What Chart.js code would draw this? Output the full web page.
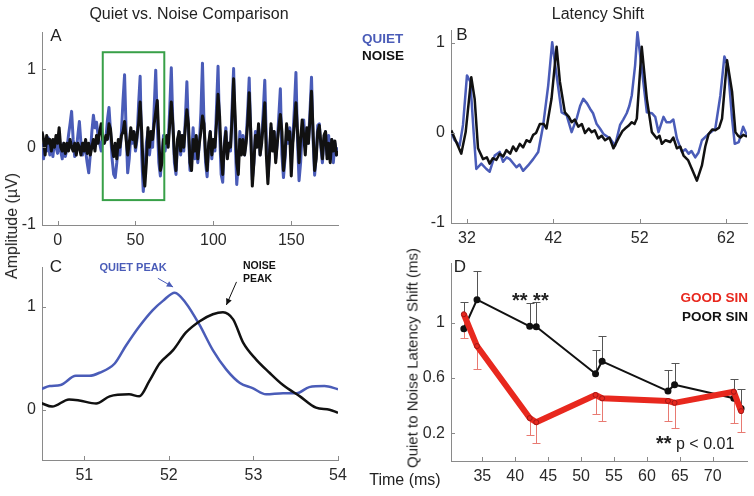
<!DOCTYPE html>
<html><head><meta charset="utf-8">
<script src="https://cdn.jsdelivr.net/npm/chart.js@4"></script>
<style>
body{margin:0;width:754px;height:496px;background:#fff;position:relative;overflow:hidden;font-family:"Liberation Sans",Arial,sans-serif;color:#222;}
canvas{position:absolute;left:0;top:0;}
.t{position:absolute;white-space:nowrap;line-height:1;transform:translate(-50%,-50%);}
.l{position:absolute;white-space:nowrap;line-height:1;transform:translate(0,-50%);}
.r{position:absolute;white-space:nowrap;line-height:1;transform:translate(-100%,-50%);}
.b{font-weight:bold;}
.st{font-weight:bold;font-size:20px;}
</style></head><body>
<canvas id="cA" width="754" height="496"></canvas>
<canvas id="cB" width="754" height="496"></canvas>
<canvas id="cC" width="754" height="496"></canvas>
<canvas id="cD" width="754" height="496"></canvas>

<div class="t" style="left:189px;top:14px;font-size:16px;">Quiet vs. Noise Comparison</div>
<div class="t" style="left:598px;top:14px;font-size:16px;">Latency Shift</div>
<div class="t" style="left:56px;top:35px;font-size:17px;">A</div>
<div class="t" style="left:462px;top:34px;font-size:17px;">B</div>
<div class="t" style="left:56px;top:266px;font-size:17px;">C</div>
<div class="t" style="left:460px;top:266px;font-size:17px;">D</div>
<div class="l b" style="left:362px;top:39px;font-size:13.5px;color:#4a5cb8;">QUIET</div>
<div class="l b" style="left:362px;top:56px;font-size:13.5px;color:#111;">NOISE</div>
<div class="t" style="left:12px;top:226px;font-size:16px;transform:translate(-50%,-50%) rotate(-90deg);">Amplitude (µV)</div>
<div class="t" style="left:405px;top:480px;font-size:16px;">Time (ms)</div>
<div class="t" style="left:412px;top:358px;font-size:15px;transform:translate(-50%,-50%) rotate(-90deg);">Quiet to Noise Latency Shift (ms)</div>
<div class="t b" style="left:133px;top:267px;font-size:11px;color:#4a5cb8;">QUIET PEAK</div>
<div class="l b" style="left:243px;top:265px;font-size:10.5px;color:#111;">NOISE</div>
<div class="l b" style="left:243px;top:278px;font-size:10.5px;color:#111;">PEAK</div>
<div class="r b" style="left:748px;top:298px;font-size:13.5px;color:#e8281e;">GOOD SIN</div>
<div class="r b" style="left:748px;top:317px;font-size:13.5px;color:#111;">POOR SIN</div>
<div class="l st" style="left:512px;top:300px;">** **</div>
<div class="l" style="left:656px;top:442px;font-size:16px;"><span class="st" style="position:relative;top:1px;">**</span> p &lt; 0.01</div>

<script>
// ---------- Panel A: full response (1 ms samples starting at -10 ms) ----------
const timeA_start = -10;
const quietA = [
 0.05,-0.15,0.1,-0.05,0.12,-0.1,0.05,-0.12,0.08,0.0,
 -0.08,0.1,-0.05,-0.15,0.05,-0.12,-0.02,0.15,0.3,0.46,
 0.1,-0.12,-0.05,0.15,0.33,0.05,-0.1,0.05,-0.05,-0.2,
 -0.33,-0.1,0.2,0.41,0.25,0.32,0.15,0.05,-0.05,0.12,
 0.05,0.1,0.35,0.51,0.2,-0.15,-0.35,-0.39,-0.2,0.05,
 -0.1,0.2,0.6,0.93,0.2,-0.33,-0.15,0.15,0.05,0.2,
 -0.05,0.1,0.55,0.91,-0.1,-0.57,-0.3,0.05,0.2,-0.1,
 0.1,0.0,0.5,0.99,0.3,-0.2,-0.37,-0.1,0.15,-0.05,
 0.1,0.05,0.5,1.02,0.3,-0.2,-0.35,0.05,0.2,-0.1,
 0.15,-0.05,0.35,0.84,0.2,-0.3,-0.1,0.25,-0.15,0.1,
 -0.2,0.05,0.45,1.08,0.3,-0.2,-0.38,0.0,0.2,-0.15,
 0.1,-0.05,0.5,1.04,0.2,-0.35,-0.45,0.05,0.25,-0.1,
 0.05,-0.05,0.5,1.01,0.1,-0.48,-0.2,0.2,-0.05,0.15,
 -0.1,0.1,0.45,0.89,0.15,-0.42,-0.2,0.2,0.05,0.25,
 -0.1,0.1,0.45,0.86,0.1,-0.38,-0.1,0.25,0.0,0.2,
 -0.15,0.05,0.4,0.75,-0.1,-0.39,-0.15,0.2,0.05,0.25,
 -0.1,0.1,0.5,0.96,0.1,-0.43,-0.2,0.2,0.35,0.0,
 0.2,0.05,0.45,0.9,0.1,-0.36,-0.1,0.28,0.3,0.0,
 -0.2,0.1,0.2,-0.1,0.15,-0.15,0.1,-0.2,0.05,-0.1,
 0.0];
const noiseA = [
 0.2,0.1,-0.1,0.15,0.05,0.1,-0.05,0.1,0.0,0.15,
 0.05,0.25,0.0,-0.05,0.05,-0.08,0.05,-0.05,0.1,0.0,
 -0.05,0.05,-0.1,0.05,0.0,-0.1,0.05,-0.05,0.1,-0.08,
 0.05,-0.1,0.0,0.1,-0.05,0.15,0.05,0.2,0.3,0.1,
 0.05,0.15,0.1,0.3,0.23,0.0,-0.12,0.05,-0.15,0.1,
 0.0,0.15,0.2,0.33,0.1,-0.1,0.05,0.25,0.1,0.2,
 0.0,0.15,0.3,0.58,0.2,-0.3,-0.5,-0.2,0.25,0.0,
 0.2,0.1,0.3,0.45,0.6,0.1,-0.3,-0.2,0.1,0.05,
 0.15,0.0,0.3,0.58,0.3,-0.1,-0.3,0.1,0.2,-0.05,
 0.15,0.0,0.25,0.48,0.3,-0.2,-0.3,0.1,-0.05,0.15,
 -0.15,0.05,0.2,0.4,0.3,-0.1,-0.3,0.05,0.2,-0.1,
 0.1,0.0,0.3,0.68,0.4,-0.1,-0.35,0.0,0.2,-0.15,
 0.05,0.0,0.35,0.88,0.4,-0.2,-0.35,0.1,-0.1,0.1,
 -0.1,0.05,0.3,0.7,0.2,-0.5,-0.2,0.15,0.0,0.3,
 -0.1,0.05,0.3,0.57,-0.1,-0.47,-0.1,0.3,-0.05,0.2,
 -0.2,0.05,0.25,0.42,0.2,-0.3,-0.1,0.3,0.1,0.2,
 -0.37,0.05,0.3,0.57,0.2,-0.2,0.1,0.35,0.15,-0.1,
 0.25,0.05,0.35,0.72,0.2,-0.3,-0.15,0.2,0.28,0.05,
 -0.15,0.15,0.2,-0.15,0.05,-0.2,0.1,-0.05,0.08,-0.1,
 -0.05];
const zoomBoxX = [29, 68.5];
const zoomBoxY = [-0.68, 1.22];
const ticksAx = [0, 50, 100, 150];
const ticksAy = [-1, 0, 1];

// ---------- Panel B: latency shift detail ----------
const quietBx = [30.18,30.57,31.15,31.54,32.0,32.39,32.77,33.08,33.66,34.25,34.63,35.21,35.79,36.18,36.6,36.96,37.3,37.73,38.1,38.5,39.08,39.67,40.25,40.83,41.41,41.87,42.38,42.96,43.54,44.12,44.7,45.1,45.47,45.9,46.25,46.6,47.02,47.4,47.8,48.57,49.15,49.73,50.1,50.5,50.8,51.09,51.47,51.74,52.24,52.83,53.41,53.8,54.18,54.76,55.1,55.54,55.9,56.31,56.89,57.3,57.67,58.0,58.44,58.8,59.21,59.99,60.76,61.35,61.81,62.2,62.7,63.01,63.48,63.98,64.44];
const quietBy = [0.01,-0.08,-0.14,0.09,0.64,0.57,0.01,-0.4,-0.34,-0.4,-0.43,-0.25,-0.21,-0.32,-0.27,-0.29,-0.33,-0.38,-0.35,-0.42,-0.36,-0.29,-0.21,0.09,0.53,1.01,0.64,0.23,0.2,0.01,0.16,0.3,0.38,0.33,0.27,0.22,0.1,0.05,-0.01,-0.06,-0.14,0.09,0.15,0.22,0.3,0.42,0.75,1.12,0.72,0.23,0.22,0.18,0.01,0.18,0.12,0.12,0.15,-0.06,-0.21,-0.18,-0.23,-0.2,-0.27,-0.22,-0.08,-0.01,0.05,0.42,0.85,0.75,0.16,-0.12,-0.1,0.07,-0.03];
const noiseBx = [30.18,30.76,31.34,31.85,32.5,32.89,33.28,33.86,34.3,34.63,35.0,35.4,35.79,36.2,36.57,37.0,37.34,37.7,38.12,38.5,38.89,39.3,39.67,40.0,40.44,40.9,41.21,41.79,42.38,42.76,43.34,43.8,44.12,44.5,44.89,45.3,45.67,46.1,46.44,46.8,47.21,47.6,47.99,48.5,48.96,49.54,50.0,50.31,50.7,51.09,51.4,51.67,52.24,52.83,53.41,53.99,54.3,54.57,55.0,55.54,55.9,56.31,56.7,57.08,57.6,58.05,58.63,59.21,59.6,59.99,60.4,60.76,61.2,61.54,62.12,62.7,63.09,63.4,63.67,64.0,64.44];
const noiseBy = [0.03,-0.1,-0.23,0.01,0.62,0.38,-0.17,-0.29,-0.27,-0.34,-0.28,-0.3,-0.23,-0.26,-0.19,-0.23,-0.15,-0.2,-0.12,-0.16,-0.08,-0.1,-0.02,0.0,0.1,0.1,0.05,0.38,0.96,0.57,0.23,0.18,0.12,0.15,0.07,0.1,0.0,0.05,0.01,0.03,-0.06,-0.03,-0.08,-0.05,-0.17,-0.06,0.02,0.05,0.08,0.12,0.1,0.16,0.96,0.38,0.01,-0.06,-0.03,-0.12,-0.08,-0.1,-0.05,-0.17,-0.15,-0.25,-0.3,-0.4,-0.53,-0.36,-0.15,-0.01,0.04,0.03,0.06,0.16,0.81,0.46,0.01,-0.03,-0.05,-0.02,-0.04];
const ticksBx = [32, 42, 52, 62];
const ticksBy = [-1, 0, 1];

// ---------- Panel C: single peak ----------
const quietCx = [50.49,50.59,50.72,50.9,51.06,51.18,51.36,51.49,51.65,51.81,51.93,52.07,52.2,52.36,52.52,52.68,52.84,52.99,53.15,53.35,53.51,53.66,53.84,54.0];
const quietCy = [0.2,0.23,0.24,0.33,0.33,0.36,0.45,0.62,0.81,0.97,1.06,1.14,1.04,0.83,0.58,0.39,0.26,0.21,0.15,0.16,0.16,0.22,0.23,0.2];
const noiseCx = [50.49,50.62,50.82,50.94,51.14,51.3,51.53,51.65,51.77,51.89,52.05,52.2,52.36,52.52,52.64,52.76,52.88,53.03,53.19,53.35,53.55,53.74,53.9,54.0];
const noiseCy = [0.065,0.03,0.1,0.09,0.06,0.13,0.15,0.13,0.28,0.45,0.58,0.75,0.86,0.93,0.95,0.88,0.65,0.49,0.36,0.24,0.13,0.02,0.0,-0.03];
const quietArrow = [[51.87, 1.28], [52.05, 1.195]];
const noiseArrow = [[52.8, 1.245], [52.68, 1.02]];
const ticksCx = [51, 52, 53, 54];
const ticksCy = [0, 1];

// ---------- Panel D: latency shift by group ----------
const latencyD = [32.2, 34.2, 42.2, 43.2, 52.2, 53.2, 63.2, 64.2, 73.2, 74.3];
const poorSin = [0.955, 1.165, 0.973, 0.97, 0.63, 0.72, 0.505, 0.55, 0.453, 0.38];
const poorSinUpper = [1.146, 1.37, 1.14, 1.146, 0.80, 0.90, 0.655, 0.71, 0.595, 0.52];
const goodSin = [1.06, 0.83, 0.31, 0.28, 0.477, 0.453, 0.434, 0.42, 0.50, 0.36];
const goodSinLower = [0.89, 0.667, 0.187, 0.127, 0.338, 0.286, 0.286, 0.237, 0.273, 0.206];
const ticksDx = [35, 40, 45, 50, 55, 60, 65, 70];
const ticksDy = [0.2, 0.6, 1];

// ---------- drawing ----------
const BLUE = '#4a5cb8', BLACK = '#111111', RED = '#e8281e', GREEN = '#38a048';
Chart.defaults.font.family = '"Liberation Sans", Arial, sans-serif';
Chart.defaults.font.size = 16;
Chart.defaults.color = '#2a2a2a';

const zip = (xs, ys) => xs.map((x, i) => ({x, y: ys[i]}));
const series = (start, ys) => ys.map((y, i) => ({x: start + i, y}));

const inTicks = {id: 'inTicks', afterDraw(chart) {
  const ctx = chart.ctx, a = chart.chartArea, xs = chart.scales.x, ys = chart.scales.y;
  ctx.save(); ctx.strokeStyle = '#8a8a8a'; ctx.lineWidth = 1;
  xs.ticks.forEach(t => { const p = Math.round(xs.getPixelForValue(t.value)) + 0.5;
    ctx.beginPath(); ctx.moveTo(p, a.bottom); ctx.lineTo(p, a.bottom - 4); ctx.stroke(); });
  ys.ticks.forEach(t => { const p = Math.round(ys.getPixelForValue(t.value)) + 0.5;
    ctx.beginPath(); ctx.moveTo(a.left, p); ctx.lineTo(a.left + 4, p); ctx.stroke(); });
  ctx.restore();
}};

function panel(id, area, xr, yr, xt, yt, datasets, plugins) {
  const W = 754, H = 496, YW = 40, XH = 30;
  return new Chart(document.getElementById(id), {
    type: 'scatter',
    data: {datasets},
    options: {
      responsive: false, animation: false, events: [],
      layout: {padding: {left: area.l - YW, right: W - area.r, top: area.t, bottom: H - area.b - XH}},
      plugins: {legend: {display: false}, tooltip: {enabled: false}},
      scales: {
        x: {type: 'linear', min: xr[0], max: xr[1],
            grid: {display: false, drawTicks: false},
            border: {display: true, color: '#8a8a8a', width: 1},
            ticks: {padding: 6, autoSkip: false, maxRotation: 0, callback: v => String(v)},
            afterBuildTicks: s => { s.ticks = xt.map(v => ({value: v})); },
            afterFit: s => { s.height = XH; s.paddingLeft = 0; s.paddingRight = 0; }},
        y: {type: 'linear', min: yr[0], max: yr[1],
            grid: {display: false, drawTicks: false},
            border: {display: true, color: '#8a8a8a', width: 1},
            ticks: {padding: 6, autoSkip: false, callback: v => String(v)},
            afterBuildTicks: s => { s.ticks = yt.map(v => ({value: v})); },
            afterFit: s => { s.width = YW; s.paddingTop = 0; s.paddingBottom = 0; }}
      }
    },
    plugins: [inTicks].concat(plugins || [])
  });
}

// order: lower value is drawn on top
const line = (data, color, width, order, extra) => Object.assign({data, showLine: true, borderColor: color,
  borderWidth: width, pointRadius: 0, tension: 0, fill: false, borderJoinStyle: 'round', order}, extra || {});

// Panel A
const boxPlugin = {id: 'box', afterDatasetsDraw(chart) {
  const x = chart.scales.x, y = chart.scales.y, ctx = chart.ctx;
  const x0 = x.getPixelForValue(zoomBoxX[0]), x1 = x.getPixelForValue(zoomBoxX[1]);
  const y0 = y.getPixelForValue(zoomBoxY[1]), y1 = y.getPixelForValue(zoomBoxY[0]);
  ctx.save(); ctx.strokeStyle = GREEN; ctx.lineWidth = 2; ctx.strokeRect(x0, y0, x1 - x0, y1 - y0); ctx.restore();
}};
panel('cA', {l: 42, r: 338, t: 32, b: 225}, [-10, 180], [-1, 1.48], ticksAx, ticksAy, [
  line(series(timeA_start, quietA), BLUE, 3, 2),
  line(series(timeA_start, noiseA), BLACK, 3, 1)
], [boxPlugin]);

// Panel B
panel('cB', {l: 451, r: 747, t: 30, b: 223}, [30.15, 64.43], [-1, 1.145], ticksBx, ticksBy, [
  line(zip(quietBx, quietBy), BLUE, 2.5, 2),
  line(zip(noiseBx, noiseBy), BLACK, 2.5, 1)
]);

// Panel C
function arrow(ctx, x0, y0, x1, y1, color) {
  ctx.strokeStyle = color; ctx.fillStyle = color; ctx.lineWidth = 1;
  ctx.beginPath(); ctx.moveTo(x0, y0); ctx.lineTo(x1, y1); ctx.stroke();
  const ang = Math.atan2(y1 - y0, x1 - x0), L = 7, w = 0.45;
  ctx.beginPath(); ctx.moveTo(x1, y1);
  ctx.lineTo(x1 - L * Math.cos(ang - w), y1 - L * Math.sin(ang - w));
  ctx.lineTo(x1 - L * Math.cos(ang + w), y1 - L * Math.sin(ang + w));
  ctx.closePath(); ctx.fill();
}
const arrowPlugin = {id: 'arrows', afterDatasetsDraw(chart) {
  const x = chart.scales.x, y = chart.scales.y, ctx = chart.ctx;
  ctx.save();
  [[quietArrow, BLUE], [noiseArrow, BLACK]].forEach(([a, c]) => arrow(ctx,
    x.getPixelForValue(a[0][0]), y.getPixelForValue(a[0][1]),
    x.getPixelForValue(a[1][0]), y.getPixelForValue(a[1][1]), c));
  ctx.restore();
}};
panel('cC', {l: 42, r: 338, t: 267, b: 460}, [50.5, 54], [-0.49, 1.39], ticksCx, ticksCy, [
  line(zip(quietCx, quietCy), BLUE, 2.5, 2, {cubicInterpolationMode: 'monotone'}),
  line(zip(noiseCx, noiseCy), BLACK, 2.5, 1, {cubicInterpolationMode: 'monotone'})
], [arrowPlugin]);

// Panel D
const errPlugin = {id: 'err', beforeDatasetsDraw(chart) {
  const x = chart.scales.x, y = chart.scales.y, ctx = chart.ctx;
  ctx.save(); ctx.lineWidth = 1;
  const draw = (vals, ends, col) => { ctx.strokeStyle = col;
    latencyD.forEach((xv, i) => { const px = Math.round(x.getPixelForValue(xv)) + 0.5;
      const p0 = y.getPixelForValue(vals[i]), p1 = Math.round(y.getPixelForValue(ends[i])) + 0.5;
      ctx.beginPath(); ctx.moveTo(px, p0); ctx.lineTo(px, p1); ctx.moveTo(px - 4, p1); ctx.lineTo(px + 4, p1); ctx.stroke(); }); };
  draw(poorSin, poorSinUpper, '#555');
  draw(goodSin, goodSinLower, '#e87a72');
  ctx.restore();
}};
panel('cD', {l: 451, r: 747, t: 263, b: 461}, [30.25, 75.2], [0, 1.43], ticksDx, ticksDy, [
  line(zip(latencyD, poorSin), BLACK, 2, 2, {pointRadius: 2.5, pointBackgroundColor: BLACK, pointBorderColor: BLACK}),
  line(zip(latencyD, goodSin), RED, 6, 1, {pointRadius: 2.5, pointBackgroundColor: RED, pointBorderColor: '#a01818', pointBorderWidth: 1})
], [errPlugin]);
</script>
</body></html>
